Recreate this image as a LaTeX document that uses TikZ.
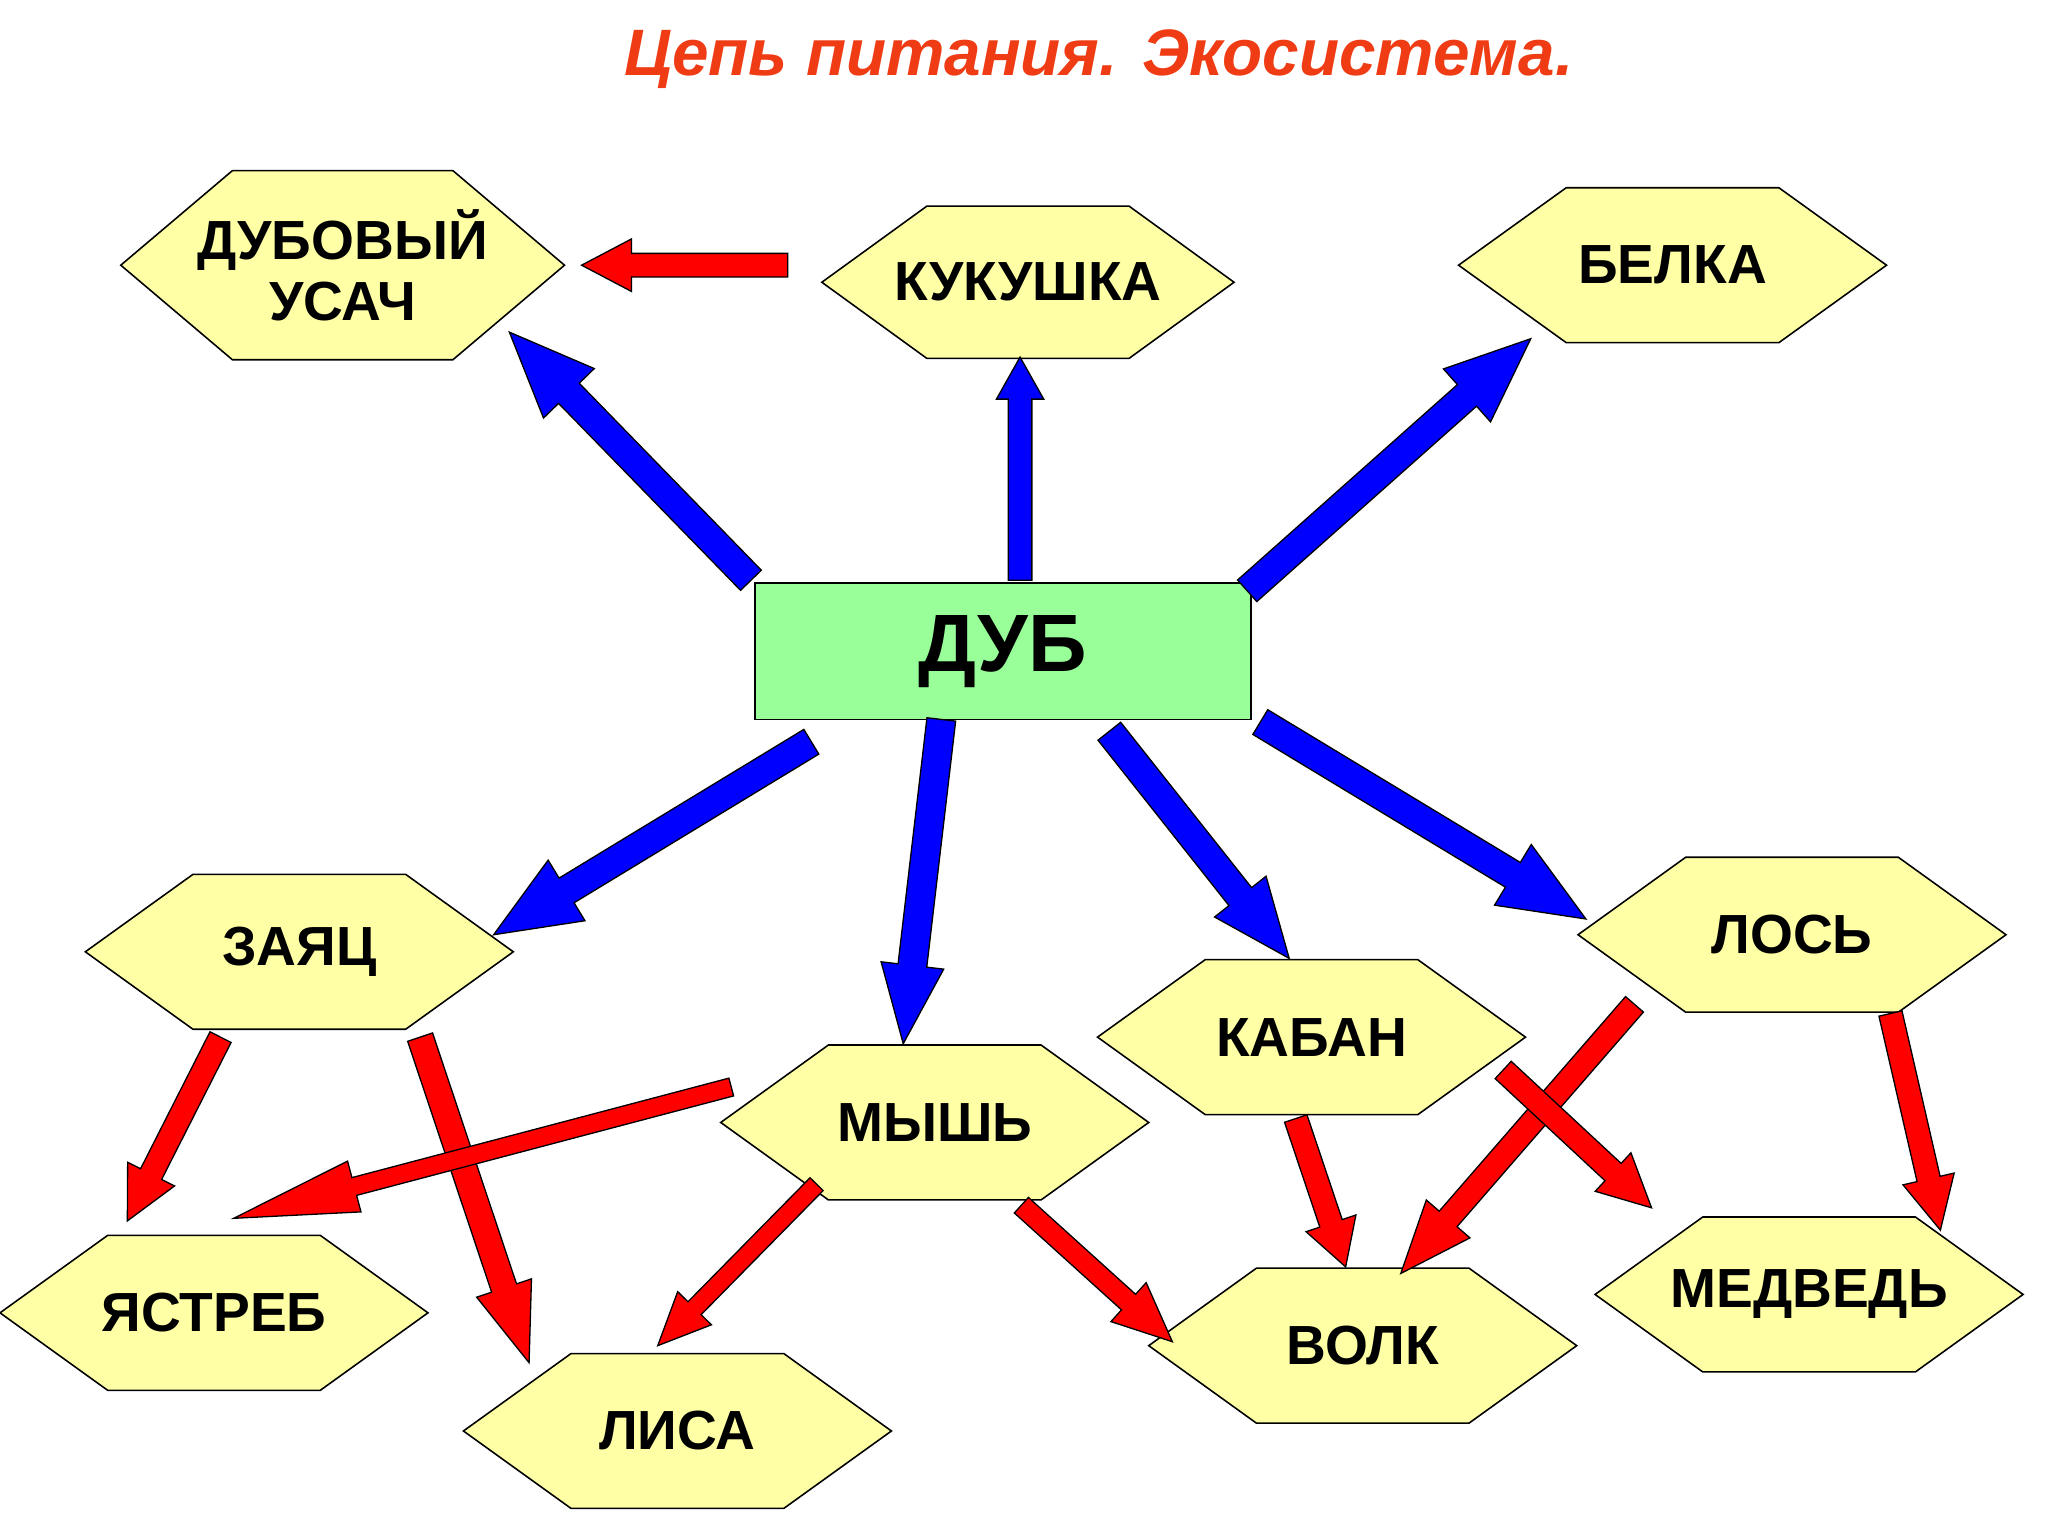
\documentclass[tikz,border=0pt]{standalone}
\usepackage{fontspec}
\setmainfont{Liberation Sans}
\usetikzlibrary{calc}
\definecolor{hexfill}{HTML}{FFFFA6}
\definecolor{oakfill}{HTML}{99FF99}
\definecolor{titlecol}{HTML}{F03C14}
\tikzset{
  lbl/.style={font=\fontsize{42}{46}\selectfont\bfseries, align=center},
  hexbox/.style={draw=black, line width=1.2pt, fill=hexfill},
  bluearr/.style={draw=black, line width=1pt, fill=blue},
  redarr/.style={draw=black, line width=1pt, fill=red},
}
% #1 start, #2 tip, #3 style, #4 shaft half width, #5 head half width, #6 head length
\newcommand\fatarrow[6]{%
  \draw[#3] ($(#1)!#4!90:(#2)$) -- ($($(#2)!#6!(#1)$)!#4!90:(#2)$) -- ($($(#2)!#6!(#1)$)!#5!90:(#2)$)
   -- (#2) -- ($($(#2)!#6!(#1)$)!#5!-90:(#2)$) -- ($($(#2)!#6!(#1)$)!#4!-90:(#2)$) -- ($(#1)!#4!-90:(#2)$) -- cycle;}
% hexagon: name, cx, cy, half width, half height, inset, text
\newcommand\hexnode[7]{%
  \draw[hexbox] (#2-#4,#3) -- (#2-#4+#6,#3-#5) -- (#2+#4-#6,#3-#5) -- (#2+#4,#3) -- (#2+#4-#6,#3+#5) -- (#2-#4+#6,#3+#5) -- cycle;
  \node[lbl] (#1) at (#2,#3) {#7};}
\begin{document}
\begin{tikzpicture}[x=1pt,y=-1pt]
\useasboundingbox[fill=white] (0,0) rectangle (1560,1170);
\node[font=\fontsize{50}{54}\selectfont\bfseries\itshape, text=titlecol] (title) at (837,45) {Цепь питания. Экосистема.};
\hexnode{usach}{261}{202}{169}{72}{85}{ДУБОВЫЙ\\УСАЧ}
\hexnode{kuk}{783}{215}{157}{58}{80}{КУКУШКА}
\hexnode{belka}{1274}{202}{163}{59}{82}{БЕЛКА}
\hexnode{zayac}{228}{725}{163}{59}{82}{ЗАЯЦ}
\hexnode{mysh}{712}{855}{163}{59}{82}{МЫШЬ}
\hexnode{kaban}{999}{790}{163}{59}{82}{КАБАН}
\hexnode{los}{1365}{712}{163}{59}{82}{ЛОСЬ}
\hexnode{yastreb}{163}{1000}{163}{59}{82}{ЯСТРЕБ}
\hexnode{lisa}{516}{1090}{163}{59}{82}{ЛИСА}
\hexnode{volk}{1038}{1025}{163}{59}{82}{ВОЛК}
\hexnode{medved}{1378}{986}{163}{59}{82}{МЕДВЕДЬ}
\node[draw=black, line width=1.2pt, fill=oakfill, minimum width=378pt, minimum height=104pt, font=\fontsize{62}{66}\selectfont\bfseries] (dub) at (764,496) {ДУБ};
% blue arrows
\coordinate (b1s) at (572,442); \coordinate (b1e) at (388,253);
\coordinate (b2s) at (777,442); \coordinate (b2e) at (777,272);
\coordinate (b3s) at (950,450); \coordinate (b3e) at (1166,258);
\coordinate (b4s) at (618,565); \coordinate (b4e) at (376,712);
\coordinate (b5s) at (717,548); \coordinate (b5e) at (688,795);
\coordinate (b6s) at (845,557); \coordinate (b6e) at (982,730);
\coordinate (b7s) at (960,550); \coordinate (b7e) at (1208,700);
\fatarrow{b1s}{b1e}{bluearr}{11pt}{27pt}{65pt}
\fatarrow{b2s}{b2e}{bluearr}{9pt}{18pt}{32pt}
\fatarrow{b3s}{b3e}{bluearr}{11pt}{27pt}{65pt}
\fatarrow{b4s}{b4e}{bluearr}{11pt}{27pt}{65pt}
\fatarrow{b5s}{b5e}{bluearr}{11pt}{24pt}{60pt}
\fatarrow{b6s}{b6e}{bluearr}{11pt}{25pt}{60pt}
\fatarrow{b7s}{b7e}{bluearr}{11pt}{27pt}{65pt}
% red arrows
\coordinate (r1s) at (600,202); \coordinate (r1e) at (443,202);
\coordinate (r2s) at (168,790); \coordinate (r2e) at (97,930);
\coordinate (r3s) at (320,790); \coordinate (r3e) at (403,1038);
\coordinate (r4s) at (557,828); \coordinate (r4e) at (178,928);
\coordinate (r5s) at (622,902); \coordinate (r5e) at (501,1025);
\coordinate (r6s) at (778,918); \coordinate (r6e) at (893,1022);
\coordinate (r7s) at (987,852); \coordinate (r7e) at (1025,965);
\coordinate (r8s) at (1245,765); \coordinate (r8e) at (1067,970);
\coordinate (r9s) at (1145,815); \coordinate (r9e) at (1258,920);
\coordinate (r10s) at (1440,772); \coordinate (r10e) at (1478,937);
\fatarrow{r1s}{r1e}{redarr}{9pt}{20pt}{38pt}
\fatarrow{r2s}{r2e}{redarr}{9pt}{20pt}{40pt}
\fatarrow{r3s}{r3e}{redarr}{10pt}{22pt}{60pt}
\fatarrow{r4s}{r4e}{redarr}{7pt}{20pt}{95pt}
\fatarrow{r5s}{r5e}{redarr}{7pt}{18pt}{40pt}
\fatarrow{r6s}{r6e}{redarr}{8pt}{20pt}{45pt}
\fatarrow{r7s}{r7e}{redarr}{9pt}{20pt}{35pt}
\fatarrow{r8s}{r8e}{redarr}{9pt}{22pt}{55pt}
\fatarrow{r9s}{r9e}{redarr}{9pt}{20pt}{40pt}
\fatarrow{r10s}{r10e}{redarr}{9pt}{20pt}{40pt}
\end{tikzpicture}
\end{document}
